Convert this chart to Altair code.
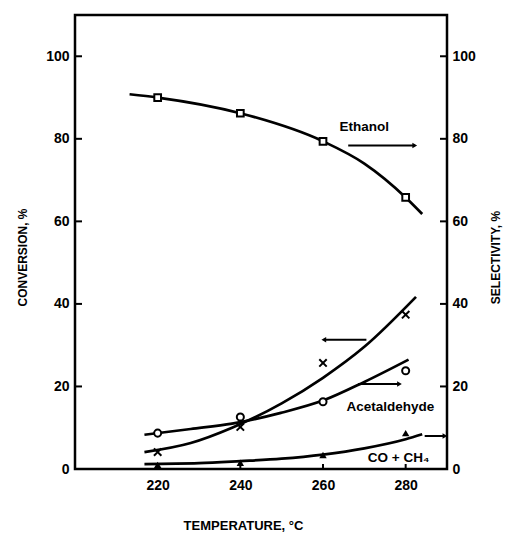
import altair as alt
import pandas as pd

# Measured points (temperature in degC)
temps = [220, 240, 260, 280]
ethanol_sel = [90.0, 86.2, 79.4, 65.8]      # selectivity, right axis
acet_conv = [4.1, 10.2, 25.7, 37.4]          # conversion, left axis
acet_sel = [8.7, 12.6, 16.3, 23.8]           # selectivity, right axis
coch4_sel = [1.0, 1.5, 3.4, 8.7]             # selectivity, right axis

# Hand-drawn trend lines through the measurements
ethanol_fit_t = [213.2, 220, 240, 260, 270, 280, 284]
ethanol_fit_v = [90.8, 90.0, 86.2, 79.4, 74.0, 65.8, 61.8]
acet_conv_fit_t = [216.8, 228, 238, 250, 260, 270, 282.5]
acet_conv_fit_v = [4.1, 6.3, 10.0, 15.9, 22.1, 29.6, 41.7]
acet_sel_fit_t = [216.8, 228, 238, 249.8, 260.3, 270, 280.7]
acet_sel_fit_v = [8.3, 9.7, 11.0, 13.6, 16.7, 21.1, 26.5]
coch4_fit_t = [216.8, 230, 240, 250, 260, 270, 280, 284]
coch4_fit_v = [1.2, 1.4, 1.9, 2.5, 3.5, 5.0, 7.2, 8.4]

# Arrows telling which axis each curve belongs to
arrow_t1 = [266.1, 268.5, 284.6]
arrow_t2 = [282.2, 278.5, 289.5]
arrow_v = [78.4, 20.6, 8.0]
conv_arrow_t1 = [260.2]
conv_arrow_t2 = [270.5]
conv_arrow_v = [31.3]

# Curve labels
label_text = ["Ethanol", "Acetaldehyde", "CO + CH\u2084"]
label_t = [270.0, 276.3, 278.3]
label_v = [82.8, 15.0, 2.7]

x_ticks = [220, 240, 260, 280]
y_ticks = [0, 20, 40, 60, 80, 100]

FONT = "Liberation Sans"
W, H = 372, 454

xscale = alt.Scale(domain=[200, 290], nice=False, zero=False)
yscale = alt.Scale(domain=[0, 110], nice=False)

x_axis = alt.Axis(values=x_ticks, title="TEMPERATURE, \u00b0C", grid=False, domain=False,
                  ticks=False, tickSize=0, labelPadding=9, labelFont=FONT, labelFontSize=14,
                  labelFontWeight="bold", titleFont=FONT, titleFontSize=13,
                  titleFontWeight="bold", titlePadding=27, titleX=168)
yl_axis = alt.Axis(values=y_ticks, title="CONVERSION, %", orient="left", grid=False,
                   domain=False, ticks=False, tickSize=0, labelPadding=6, labelFont=FONT,
                   labelFontSize=14, labelFontWeight="bold", titleFont=FONT,
                   titleFontSize=12, titleFontWeight="bold", titlePadding=16, titleY=242)
yr_axis = alt.Axis(values=y_ticks, title="SELECTIVITY, %", orient="right", grid=False,
                   domain=False, ticks=False, tickSize=0, labelPadding=5, labelFont=FONT,
                   labelFontSize=14, labelFontWeight="bold", titleFont=FONT,
                   titleFontSize=12, titleFontWeight="bold", titlePadding=15,
                   titleAngle=270, titleBaseline="top", titleY=242)


def X(field):
    return alt.X(f"{field}:Q", scale=xscale, axis=x_axis)


def X2(field):
    return alt.X2(f"{field}:Q")


def YL(field):
    return alt.Y(f"{field}:Q", scale=yscale, axis=yl_axis)


def YR(field):
    return alt.Y(f"{field}:Q", scale=yscale, axis=yr_axis)


def fit_frame(name, ts, vs):
    return pd.DataFrame({"series": name, "t": ts, "v": vs})


sel_fits = pd.concat([
    fit_frame("ethanol", ethanol_fit_t, ethanol_fit_v),
    fit_frame("acet_sel", acet_sel_fit_t, acet_sel_fit_v),
    fit_frame("coch4", coch4_fit_t, coch4_fit_v),
])
conv_fit = fit_frame("acet_conv", acet_conv_fit_t, acet_conv_fit_v)

pts = pd.DataFrame({"t": temps, "ethanol": ethanol_sel, "acet_conv": acet_conv,
                    "acet_sel": acet_sel, "coch4": coch4_sel})
arrows = pd.DataFrame({"t1": arrow_t1, "t2": arrow_t2, "v": arrow_v})
conv_arrows = pd.DataFrame({"t1": conv_arrow_t1, "t2": conv_arrow_t2, "v": conv_arrow_v})
labels = pd.DataFrame({"text": label_text, "t": label_t, "v": label_v})
yt = pd.DataFrame({"v": y_ticks})
xt = pd.DataFrame({"t": x_ticks})

line_style = dict(color="black", strokeWidth=2.7, interpolate="monotone")

# ---- conversion (left axis) ----
conv_line = alt.Chart(conv_fit).mark_line(**line_style).encode(x=X("t"), y=YL("v"))
conv_pts = alt.Chart(pts).mark_point(shape="M-1,-1L1,1M-1,1L1,-1", filled=False,
                                     color="black", strokeWidth=2, size=55,
                                     opacity=1).encode(x=X("t"), y=YL("acet_conv"))
conv_shaft = alt.Chart(conv_arrows).mark_rule(color="black", strokeWidth=2).encode(
    x=X("t1"), x2=X2("t2"), y=YL("v"))
conv_head = alt.Chart(conv_arrows).mark_point(shape="triangle-left", filled=True,
                                              color="black", size=30, opacity=1).encode(
    x=X("t1"), y=YL("v"))
left_ticks = alt.Chart(yt).mark_rule(color="black", strokeWidth=2).encode(
    y=YL("v"), x=alt.value(0), x2=alt.value(7))
bottom_ticks = alt.Chart(xt).mark_rule(color="black", strokeWidth=2).encode(
    x=X("t"), y=alt.value(H), y2=alt.value(H - 5))

conv_layer = alt.layer(conv_line, conv_pts, conv_shaft, conv_head, left_ticks, bottom_ticks)

# ---- selectivity (right axis) ----
sel_lines = alt.Chart(sel_fits).mark_line(**line_style).encode(
    x=X("t"), y=YR("v"), detail="series:N")
eth_pts = alt.Chart(pts).mark_point(shape="square", filled=True, fill="white",
                                    stroke="black", strokeWidth=2, size=45,
                                    opacity=1).encode(x=X("t"), y=YR("ethanol"))
ald_pts = alt.Chart(pts).mark_point(shape="circle", filled=True, fill="white",
                                    stroke="black", strokeWidth=2, size=50,
                                    opacity=1).encode(x=X("t"), y=YR("acet_sel"))
co_pts = alt.Chart(pts).mark_point(shape="triangle-up", filled=True, color="black",
                                   size=55, opacity=1).encode(x=X("t"), y=YR("coch4"))
shafts = alt.Chart(arrows).mark_rule(color="black", strokeWidth=2).encode(
    x=X("t1"), x2=X2("t2"), y=YR("v"))
heads = alt.Chart(arrows).mark_point(shape="triangle-right", filled=True, color="black",
                                     size=30, opacity=1).encode(x=X("t2"), y=YR("v"))
texts = alt.Chart(labels).mark_text(font=FONT, fontWeight="bold", fontSize=13.5,
                                    align="center", baseline="middle",
                                    color="black").encode(
    x=X("t"), y=YR("v"), text="text:N")
right_ticks = alt.Chart(yt).mark_rule(color="black", strokeWidth=2).encode(
    y=YR("v"), x=alt.value(W - 7), x2=alt.value(W))

sel_layer = alt.layer(sel_lines, eth_pts, ald_pts, co_pts, shafts, heads, texts, right_ticks)

chart = (
    alt.layer(conv_layer, sel_layer)
    .resolve_scale(y="independent")
    .properties(width=W, height=H,
                padding={"left": 75, "top": 15, "right": 65, "bottom": 64},
                autosize=alt.AutoSizeParams(type="none"),
                background="white")
    .configure_view(stroke="black", strokeWidth=2.5)
)

chart.save("out.html", embed_options={"renderer": "svg", "actions": False})
